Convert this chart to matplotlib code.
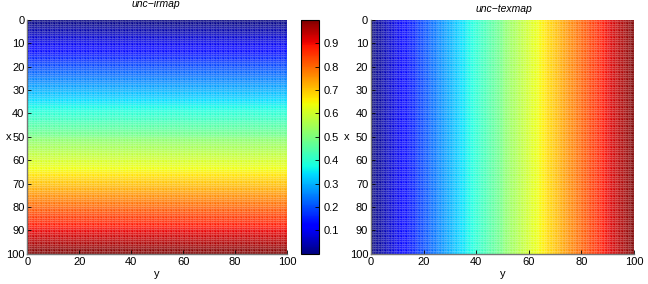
#Two uncertainty maps shown as jet-coloured grids
import numpy as np
import matplotlib.pyplot as plt

plt.rcParams['font.family'] = ['Liberation Sans', 'DejaVu Sans']

#Cell values along the varying direction (100 cells)
ramp = [0.00, 0.01, 0.02, 0.03, 0.04, 0.05, 0.06, 0.07, 0.08, 0.09,
        0.10, 0.11, 0.12, 0.13, 0.14, 0.15, 0.16, 0.17, 0.18, 0.19,
        0.20, 0.21, 0.22, 0.23, 0.24, 0.25, 0.26, 0.27, 0.28, 0.29,
        0.30, 0.31, 0.32, 0.33, 0.34, 0.35, 0.36, 0.37, 0.38, 0.39,
        0.40, 0.41, 0.42, 0.43, 0.44, 0.45, 0.46, 0.47, 0.48, 0.49,
        0.51, 0.52, 0.53, 0.54, 0.55, 0.56, 0.57, 0.58, 0.59, 0.60,
        0.61, 0.62, 0.63, 0.64, 0.65, 0.66, 0.67, 0.68, 0.69, 0.70,
        0.71, 0.72, 0.73, 0.74, 0.75, 0.76, 0.77, 0.78, 0.79, 0.80,
        0.81, 0.82, 0.83, 0.84, 0.85, 0.86, 0.87, 0.88, 0.89, 0.90,
        0.91, 0.92, 0.93, 0.94, 0.95, 0.96, 0.97, 0.98, 0.99, 1.00]
titles = ['unc\u2212irmap', 'unc\u2212texmap']
x_ticks = [0, 20, 40, 60, 80, 100]
y_ticks = [0, 10, 20, 30, 40, 50, 60, 70, 80, 90, 100]
cbar_ticks = [0.1, 0.2, 0.3, 0.4, 0.5, 0.6, 0.7, 0.8, 0.9]

r = np.array(ramp)
irmap = np.tile(r[:, None], (1, len(r)))   # varies down the rows (x)
texmap = np.tile(r[None, :], (len(r), 1))  # varies across columns (y)
edges = np.arange(len(r) + 1)

fig = plt.figure(figsize=(6.48, 2.84), dpi=100)
ax1 = fig.add_axes([0.042, 0.106, 0.401, 0.824])
cax = fig.add_axes([0.4645, 0.106, 0.028, 0.824])
ax2 = fig.add_axes([0.5725, 0.106, 0.406, 0.824])

for ax, data in ((ax1, irmap), (ax2, texmap)):
    m = ax.pcolormesh(edges, edges, data, cmap='jet', vmin=0, vmax=1,
                      edgecolors=(1, 1, 1, 0.12), linewidth=0.3)
    ax.set_xlim(0, 100)
    ax.set_ylim(100, 0)
    ax.set_xticks(x_ticks)
    ax.set_yticks(y_ticks)
    ax.tick_params(direction='in', length=3, width=0.6, labelsize=8, pad=2)
    ax.set_xlabel('y', fontsize=8, labelpad=2)
    ax.set_ylabel('x', fontsize=8, rotation=0, va='center', ha='center')
    for s in ('top', 'right'):
        ax.spines[s].set_visible(False)
    for s in ('left', 'bottom'):
        ax.spines[s].set_color('#777777')
        ax.spines[s].set_linewidth(1.0)
    if ax is ax1:
        mesh = m

ax1.yaxis.set_label_coords(-0.072, 0.5)
ax2.yaxis.set_label_coords(-0.092, 0.5)

fig.text(0.24, 0.985, titles[0], ha='center', va='center', fontsize=7.5, style='italic')
fig.text(0.777, 0.97, titles[1], ha='center', va='center', fontsize=7.5, style='italic')

cb = fig.colorbar(mesh, cax=cax, ticks=cbar_ticks)
cb.ax.tick_params(direction='in', length=3, width=0.6, labelsize=8, pad=3)
cb.ax.set_yticklabels([str(t) for t in cbar_ticks])
cb.outline.set_linewidth(0.8)

plt.savefig('out.png', dpi=100)
